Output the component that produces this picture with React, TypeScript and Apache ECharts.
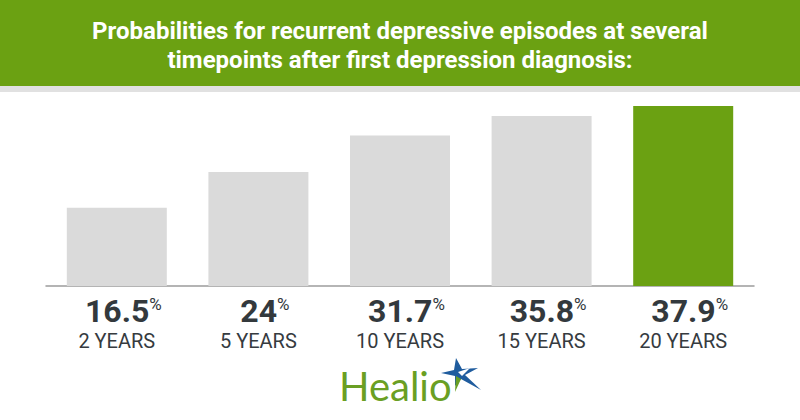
import React, { useEffect, useRef } from "react";
import * as echarts from "echarts";

const categories = ["2 YEARS", "5 YEARS", "10 YEARS", "15 YEARS", "20 YEARS"];
const values = [16.5, 24, 31.7, 35.8, 37.9];
const titleLines = [
  "Probabilities for recurrent depressive episodes at several",
  "timepoints after first depression diagnosis:",
];
const brand = "Healio";

const GREEN = "#6ba112";
const GRAY = "#dadada";

export default function App() {
  const ref = useRef<HTMLDivElement>(null);
  useEffect(() => {
    document.body.style.margin = "0";
    const chart = echarts.init(ref.current!, null, { renderer: "svg" });
    const lastIdx = values.length - 1;
    chart.setOption({
      animation: false,
      backgroundColor: "#ffffff",
      grid: { left: 46, right: 46, top: 96, bottom: 134, containLabel: false },
      xAxis: {
        type: "category",
        data: categories,
        axisTick: { show: false },
        axisLine: { show: true, lineStyle: { color: "#9c9c9c", width: 1.5 } },
        axisLabel: {
          margin: 8,
          interval: 0,
          formatter: (_v: string, i: number) =>
            `{s|}{v|${values[i]}}{p|%}\n{c|${categories[i]}}`,
          rich: {
            s: { width: 13, lineHeight: 34 },
            v: {
              fontFamily: "Roboto",
              fontWeight: "bold",
              fontSize: 32,
              lineHeight: 34,
              color: "#33393d",
            },
            p: {
              fontFamily: "Roboto",
              fontSize: 17,
              lineHeight: 17,
              verticalAlign: "top",
              color: "#33393d",
              padding: [1, 0, 0, 0],
            },
            c: {
              fontFamily: "Roboto",
              fontSize: 20,
              lineHeight: 26,
              color: "#363b3f",
            },
          },
        },
      },
      yAxis: { type: "value", min: 0, max: 40, show: false },
      series: [
        {
          type: "bar",
          barWidth: 100,
          data: values.map((v, i) => ({
            value: v,
            itemStyle: { color: i === lastIdx ? GREEN : GRAY },
          })),
        },
      ],
      graphic: [
        { type: "rect", shape: { x: 0, y: 0, width: 800, height: 86 }, style: { fill: GREEN }, z: 0 },
        { type: "rect", shape: { x: 0, y: 86, width: 800, height: 6 }, style: { fill: "#e1e1e1" }, z: 0 },
        {
          type: "text",
          x: 400,
          y: 45,
          scaleX: 1,
          style: {
            text: titleLines.join("\n"),
            fill: "#ffffff",
            font: "bold 24px Roboto",
            lineHeight: 29,
            textAlign: "center",
            textVerticalAlign: "middle",
          },
          z: 10,
        },
        {
          type: "text",
          x: 339,
          y: 386,
          style: {
            text: brand,
            fill: "#6a9f23",
            font: "40px Lato",
            textAlign: "left",
            textVerticalAlign: "middle",
          },
          z: 10,
        },
        {
          type: "polygon",
          shape: {
            points: [
              [456, 358],
              [462, 369],
              [478, 368],
              [465, 375],
              [481, 390],
              [461, 379],
              [455, 386],
              [455, 376],
              [441, 373],
              [454, 370],
            ],
          },
          style: { fill: "#1f5c9e" },
          z: 10,
        },
        {
          type: "polygon",
          shape: { points: [[456, 376], [461, 379], [455, 392]] },
          style: { fill: "#6a9f23" },
          z: 11,
        },
        {
          type: "polygon",
          shape: { points: [[458, 372], [470, 368], [462, 376]] },
          style: { fill: "#ffffff" },
          z: 11,
        },
      ],
    });
    return () => chart.dispose();
  }, []);
  return <div ref={ref} style={{ width: 800, height: 420 }} />;
}
